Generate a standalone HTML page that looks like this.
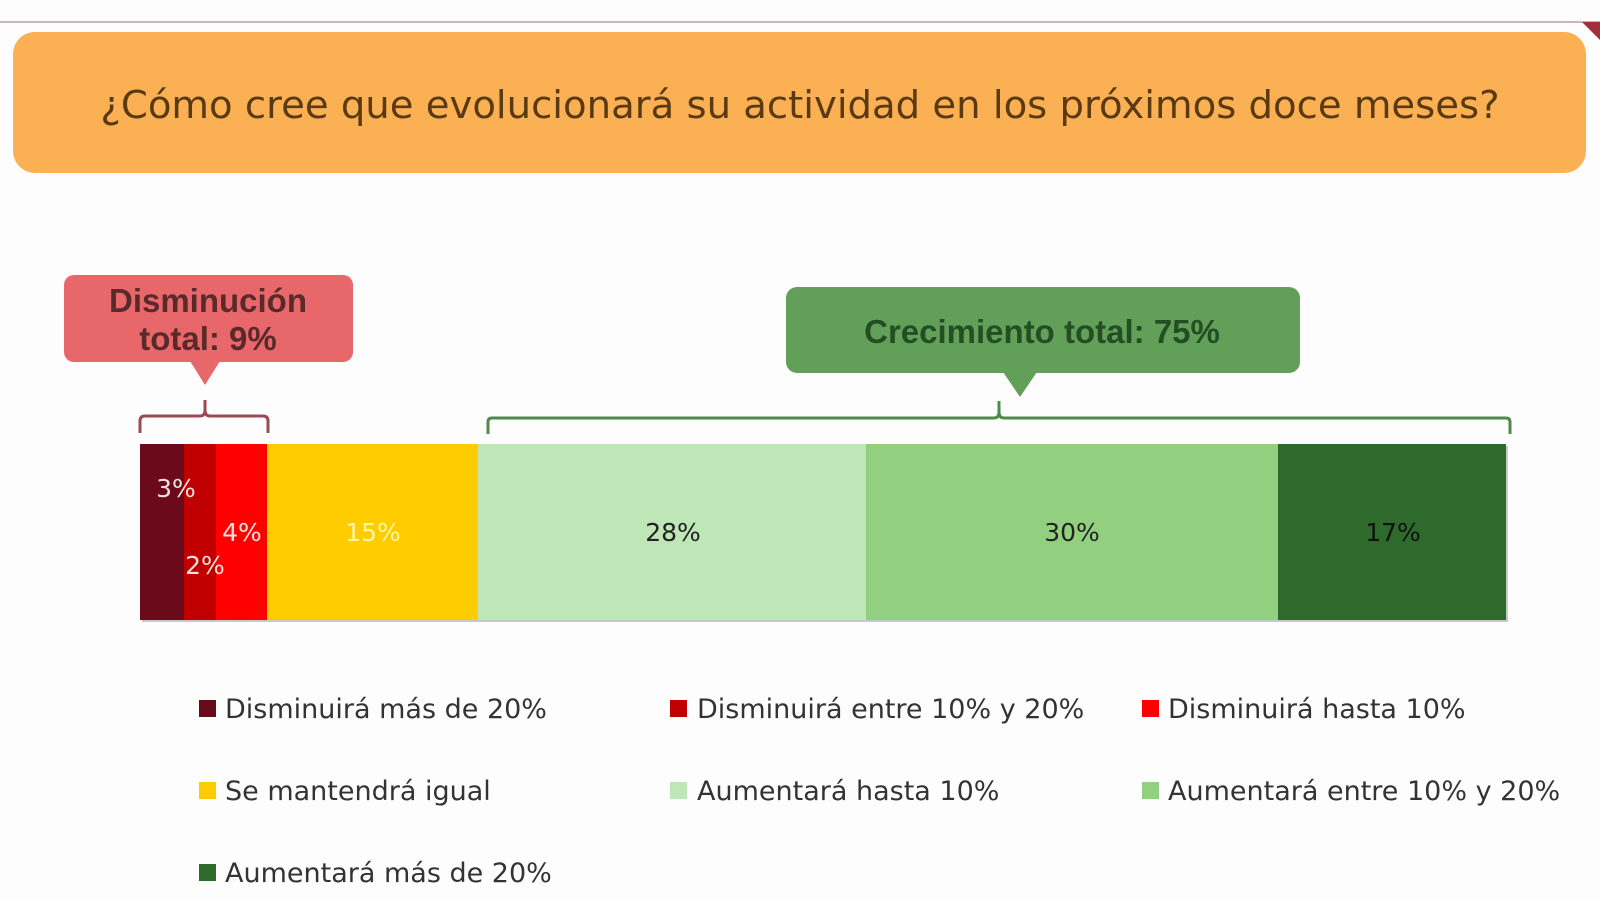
<!DOCTYPE html>
<html><head><meta charset="utf-8"><style>
html,body{margin:0;padding:0;background:#fff;}
svg{display:block}
</style></head><body>
<svg width="1600" height="900" viewBox="0 0 1600 900" xmlns="http://www.w3.org/2000/svg">
<rect width="1600" height="900" fill="#fdfdfd"/>
<line x1="0" y1="22" x2="1600" y2="22" stroke="#c8b8bc" stroke-width="2"/>
<polygon points="1582,22 1600,22 1600,40" fill="#a0303a"/>
<rect x="13" y="32" width="1573" height="141" rx="22" fill="#fbb054"/>
<text x="800" y="118" text-anchor="middle" font-family="'DejaVu Sans','Liberation Sans',sans-serif" font-size="38.6" fill="#5a3a12">¿Cómo cree que evolucionará su actividad en los próximos doce meses?</text>

<!-- Disminucion callout -->
<rect x="64" y="275" width="289" height="87" rx="10" fill="#e8676b"/>
<polygon points="190,361 220,361 205,385" fill="#e8676b"/>
<text x="208" y="312" text-anchor="middle" font-family="'Liberation Sans',sans-serif" font-weight="bold" font-size="33" fill="#5a2a2a">Disminución</text>
<text x="208" y="350" text-anchor="middle" font-family="'Liberation Sans',sans-serif" font-weight="bold" font-size="33" fill="#5a2a2a">total: 9%</text>
<path d="M140,433 V421 Q140,416 145,416 H200 Q205,416 205,410 V400 M205,410 Q205,416 210,416 H263 Q268,416 268,421 V433" fill="none" stroke="#9a4a55" stroke-width="3"/>

<!-- Crecimiento callout -->
<rect x="786" y="287" width="514" height="86" rx="11" fill="#62a05a"/>
<polygon points="1003,372 1037,372 1020,397" fill="#62a05a"/>
<text x="1042" y="343" text-anchor="middle" font-family="'Liberation Sans',sans-serif" font-weight="bold" font-size="33" fill="#234d22">Crecimiento total: 75%</text>
<path d="M488,434 V422 Q488,418 492,418 H994 Q999,418 999,412 V401 M999,412 Q999,418 1004,418 H1506 Q1510,418 1510,422 V434" fill="none" stroke="#4f8a4a" stroke-width="3"/>

<!-- bar -->
<rect x="142" y="446" width="1366" height="176" fill="#c8c8c8"/>
<rect x="140" y="444" width="44" height="176" fill="#6b0a1a"/>
<rect x="184" y="444" width="32" height="176" fill="#c00000"/>
<rect x="216" y="444" width="51" height="176" fill="#ff0000"/>
<rect x="267" y="444" width="211" height="176" fill="#ffcc00"/>
<rect x="478" y="444" width="388" height="176" fill="#bfe6b6"/>
<rect x="866" y="444" width="412" height="176" fill="#92d07f"/>
<rect x="1278" y="444" width="228" height="176" fill="#2e6a2c"/>
<g font-family="'DejaVu Sans','Liberation Sans',sans-serif" font-size="25" text-anchor="middle">
<text x="176" y="497" fill="#f0e0e0">3%</text>
<text x="242" y="541" fill="#ffe0e0">4%</text>
<text x="205" y="574" fill="#ffe0e0">2%</text>
<text x="373" y="541" fill="#fff6a0">15%</text>
<text x="673" y="541" fill="#222">28%</text>
<text x="1072" y="541" fill="#222">30%</text>
<text x="1393" y="541" fill="#111">17%</text>
</g>

<!-- legend -->
<g font-family="'DejaVu Sans','Liberation Sans',sans-serif" font-size="27" fill="#333">
<rect x="199" y="700" width="17" height="17" fill="#6b0a1a"/><text x="225" y="718">Disminuirá más de 20%</text>
<rect x="670" y="700" width="17" height="17" fill="#c00000"/><text x="697" y="718">Disminuirá entre 10% y 20%</text>
<rect x="1142" y="700" width="17" height="17" fill="#ff0000"/><text x="1168" y="718">Disminuirá hasta 10%</text>
<rect x="199" y="782" width="17" height="17" fill="#ffcc00"/><text x="225" y="800">Se mantendrá igual</text>
<rect x="670" y="782" width="17" height="17" fill="#bfe6b6"/><text x="697" y="800">Aumentará hasta 10%</text>
<rect x="1142" y="782" width="17" height="17" fill="#92d07f"/><text x="1168" y="800">Aumentará entre 10% y 20%</text>
<rect x="199" y="864" width="17" height="17" fill="#2e6a2c"/><text x="225" y="882">Aumentará más de 20%</text>
</g>
</svg>
</body></html>
